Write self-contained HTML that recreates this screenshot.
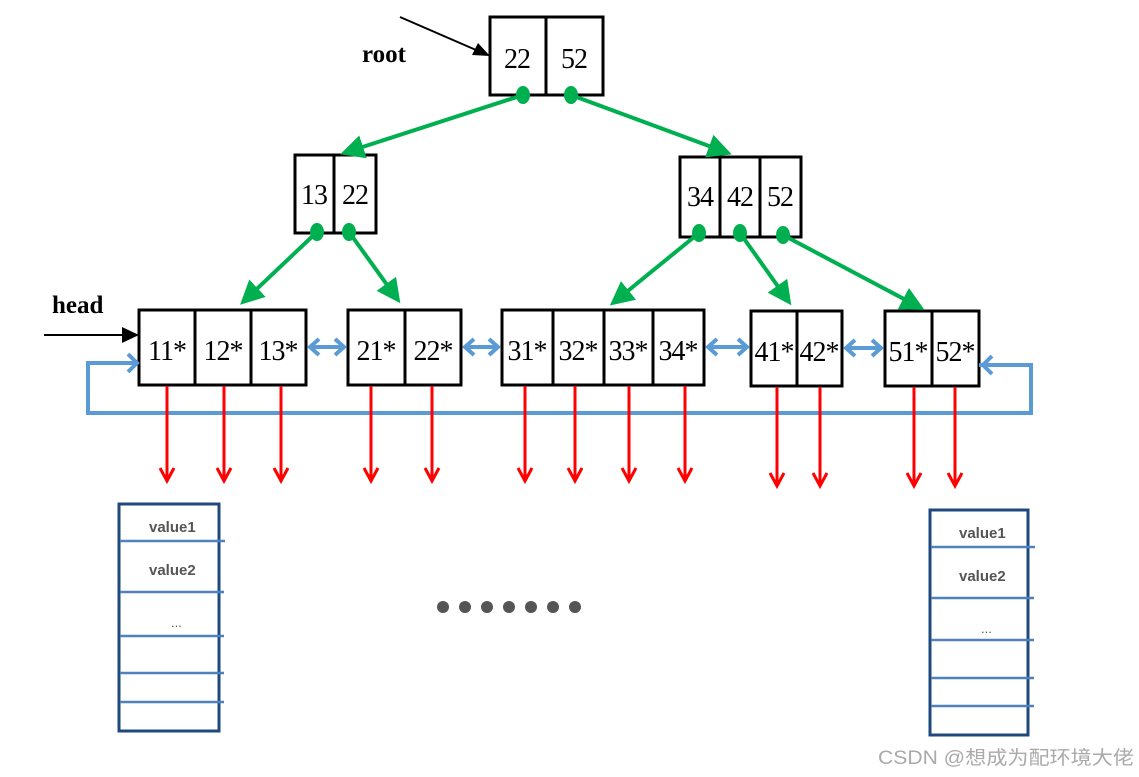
<!DOCTYPE html>
<html><head><meta charset="utf-8"><style>
body{margin:0;background:#fff}
svg{display:block}
.n{font-family:"Liberation Serif",serif;font-size:28px;fill:#000;text-anchor:middle;letter-spacing:-1px}
.v{font-family:"Liberation Sans",sans-serif;font-size:15px;font-weight:bold;fill:#555}
</style></head><body>
<svg width="1139" height="777" viewBox="0 0 1139 777" xmlns="http://www.w3.org/2000/svg">
<defs>
<marker id="g" markerWidth="6" markerHeight="6" refX="5" refY="3" orient="auto" markerUnits="strokeWidth"><path d="M0,0 L6,3 L0,6 Z" fill="#00b050"/></marker>
</defs>
<g fill="none" stroke="#000" stroke-width="3">
<rect x="490" y="17" width="113" height="78"/><line x1="546" y1="17" x2="546" y2="95"/>
<rect x="295" y="155" width="81" height="78"/><line x1="334" y1="155" x2="334" y2="233"/>
<rect x="680" y="157" width="121" height="80"/><line x1="720" y1="157" x2="720" y2="237"/><line x1="760" y1="157" x2="760" y2="237"/>
<rect x="139" y="310" width="167" height="75"/><line x1="195" y1="310" x2="195" y2="385"/><line x1="251" y1="310" x2="251" y2="385"/>
<rect x="348" y="310" width="113" height="75"/><line x1="405" y1="310" x2="405" y2="385"/>
<rect x="502" y="310" width="202" height="75"/><line x1="553" y1="310" x2="553" y2="385"/><line x1="604" y1="310" x2="604" y2="385"/><line x1="653" y1="310" x2="653" y2="385"/>
<rect x="751" y="311" width="91" height="75"/><line x1="797" y1="311" x2="797" y2="386"/>
<rect x="885" y="311" width="94" height="75"/><line x1="932" y1="311" x2="932" y2="386"/>
</g>
<g class="n">
<text x="517" y="68">22</text><text x="574" y="68">52</text>
<text x="314" y="204">13</text><text x="355" y="204">22</text>
<text x="700" y="206">34</text><text x="740" y="206">42</text><text x="780" y="206">52</text>
<text x="167" y="360">11*</text><text x="223" y="360">12*</text><text x="278" y="360">13*</text>
<text x="376" y="360">21*</text><text x="433" y="360">22*</text>
<text x="527" y="360">31*</text><text x="578" y="360">32*</text><text x="628" y="360">33*</text><text x="678" y="360">34*</text>
<text x="774" y="361">41*</text><text x="819" y="361">42*</text>
<text x="908" y="361">51*</text><text x="955" y="361">52*</text>
</g>
<text x="362" y="62" font-family="Liberation Serif,serif" font-size="25" font-weight="bold">root</text>
<text x="52" y="313" font-family="Liberation Serif,serif" font-size="25" font-weight="bold">head</text>
<line x1="400" y1="17" x2="476" y2="50" stroke="#000" stroke-width="2"/><path d="M490,56 L472,55 L478,43 Z"/>
<line x1="44" y1="335" x2="124" y2="335" stroke="#000" stroke-width="2"/><path d="M139,335 L122,327 L122,343 Z"/>
<g stroke="#00b050" stroke-width="4" marker-end="url(#g)">
<line x1="523" y1="95" x2="344" y2="153"/><line x1="571" y1="95" x2="728" y2="153"/>
<line x1="317" y1="232" x2="243" y2="302"/><line x1="349" y1="232" x2="398" y2="300"/>
<line x1="699" y1="233" x2="613" y2="303"/><line x1="740" y1="233" x2="789" y2="302"/><line x1="783" y1="235" x2="921" y2="308"/>
</g>
<g fill="#00b050"><ellipse cx="523" cy="95" rx="7" ry="9"/><ellipse cx="571" cy="95" rx="7" ry="9"/><ellipse cx="317" cy="232" rx="7" ry="9"/><ellipse cx="349" cy="232" rx="7" ry="9"/><ellipse cx="699" cy="233" rx="7" ry="9"/><ellipse cx="740" cy="233" rx="7" ry="9"/><ellipse cx="783" cy="235" rx="7" ry="9"/></g>
<g stroke="#5b9bd5" stroke-width="4" fill="none">
<path d="M979,365 H1031 V413 H88 V363 H134"/>
<path d="M128,354 L137,363 L128,372"/><path d="M992,356 L983,365 L992,374"/>
<line x1="310" y1="347" x2="344" y2="347"/><path d="M319,339 L310,347 L319,355 M335,339 L344,347 L335,355"/>
<line x1="465" y1="347" x2="498" y2="347"/><path d="M474,339 L465,347 L474,355 M489,339 L498,347 L489,355"/>
<line x1="708" y1="347" x2="747" y2="347"/><path d="M717,339 L708,347 L717,355 M738,339 L747,347 L738,355"/>
<line x1="846" y1="348" x2="881" y2="348"/><path d="M855,340 L846,348 L855,356 M872,340 L881,348 L872,356"/>
</g>
<g stroke="#ff0000" stroke-width="3" fill="none">
<path d="M167,386 V481 M160,468 L167,481 L174,468"/>
<path d="M224,386 V481 M217,468 L224,481 L231,468"/>
<path d="M281,386 V481 M274,468 L281,481 L288,468"/>
<path d="M371,386 V481 M364,468 L371,481 L378,468"/>
<path d="M432,386 V481 M425,468 L432,481 L439,468"/>
<path d="M525,386 V481 M518,468 L525,481 L532,468"/>
<path d="M575,386 V481 M568,468 L575,481 L582,468"/>
<path d="M629,386 V481 M622,468 L629,481 L636,468"/>
<path d="M685,386 V481 M678,468 L685,481 L692,468"/>
<path d="M777,387 V486 M770,473 L777,486 L784,473"/>
<path d="M820,387 V486 M813,473 L820,486 L827,473"/>
<path d="M914,387 V486 M907,473 L914,486 L921,473"/>
<path d="M955,387 V486 M948,473 L955,486 L962,473"/>
</g>
<g fill="none">
<rect x="119" y="504" width="100" height="227" stroke="#1f497d" stroke-width="3"/>
<g stroke="#4f81bd" stroke-width="2.5"><line x1="120" y1="541" x2="225" y2="541"/><line x1="120" y1="592" x2="224" y2="592"/><line x1="120" y1="636" x2="224" y2="636"/><line x1="120" y1="673" x2="224" y2="673"/><line x1="120" y1="702" x2="224" y2="702"/></g>
<rect x="930" y="510" width="98" height="225" stroke="#1f497d" stroke-width="3"/>
<g stroke="#4f81bd" stroke-width="2.5"><line x1="931" y1="547" x2="1035" y2="547"/><line x1="931" y1="598" x2="1034" y2="598"/><line x1="931" y1="640" x2="1034" y2="640"/><line x1="931" y1="678" x2="1034" y2="678"/><line x1="931" y1="706" x2="1034" y2="706"/></g>
</g>
<text class="v" x="149" y="532">value1</text><text class="v" x="149" y="575">value2</text><text x="171" y="627" font-family="Liberation Sans,sans-serif" font-size="13" fill="#555">...</text>
<text class="v" x="959" y="538">value1</text><text class="v" x="959" y="581">value2</text><text x="981" y="633" font-family="Liberation Sans,sans-serif" font-size="13" fill="#555">...</text>
<g fill="#555"><circle cx="443" cy="607" r="6"/><circle cx="465" cy="607" r="6"/><circle cx="487" cy="607" r="6"/><circle cx="509" cy="607" r="6"/><circle cx="531" cy="607" r="6"/><circle cx="553" cy="607" r="6"/><circle cx="575" cy="607" r="6"/></g>
<text x="878" y="764" font-family="Liberation Sans,'Noto Sans CJK SC',sans-serif" font-size="19" fill="#aaa" textLength="256" lengthAdjust="spacingAndGlyphs">CSDN @想成为配环境大佬</text>
</svg>
</body></html>
